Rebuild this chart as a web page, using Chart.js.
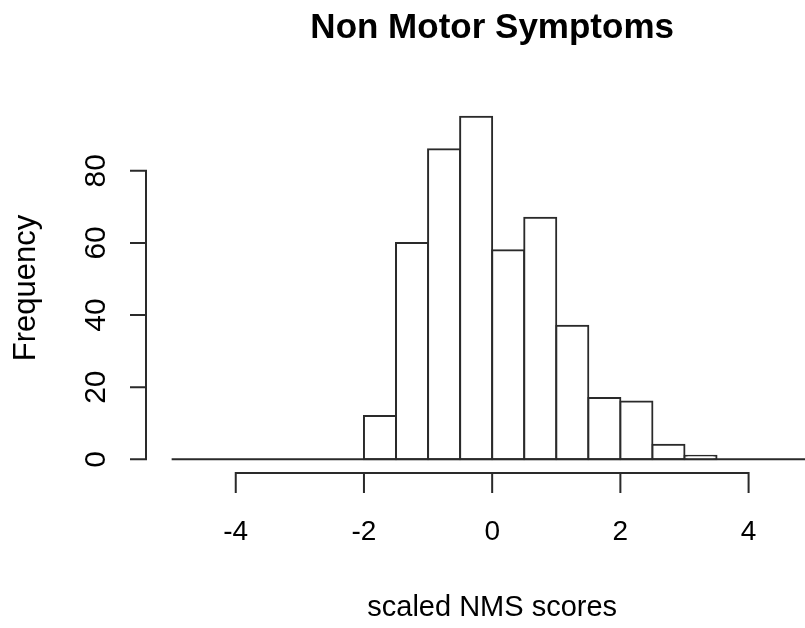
<!DOCTYPE html>
<html>
<head>
<meta charset="utf-8">
<title>Non Motor Symptoms</title>
<script src="https://cdn.jsdelivr.net/npm/chart.js@4.4.1/dist/chart.umd.min.js"></script>
<style>
  html, body { margin: 0; padding: 0; background: #fff; }
  #wrap { width: 805px; height: 628px; }
</style>
</head>
<body>
<div id="wrap"><canvas id="nmsChart" width="805" height="628"></canvas></div>
<script>
// histogram bins (width 0.5), centres and counts
const binCentres = [-4.75, -4.25, -3.75, -3.25, -2.75, -2.25, -1.75, -1.25, -0.75, -0.25,
                    0.25, 0.75, 1.25, 1.75, 2.25, 2.75, 3.25, 3.75, 4.25, 4.75];
const counts = [0, 0, 0, 0, 0, 0, 12, 60, 86, 95,
                58, 67, 37, 17, 16, 4, 1, 0, 0, 0];
const binRange = [-5, 5];

const xTicks = [-4, -2, 0, 2, 4];
const yTicks = [0, 20, 40, 60, 80];

// R plot region: x -5.4..5.4 (picture is cut at the right), y -3.8..98.8
const xPlot = [-5.4, 5.4];
const xVisibleMax = 4.88;
const yLim = [-3.8, 98.8];

const FONT = "'Liberation Sans', Arial, Helvetica, sans-serif";
const LINE = '#2a2a2a';

// ========================
// R style axes + titles
// ========================
const rAxes = {
    id: 'rAxes',
    afterDraw(chart) {
        const { ctx, chartArea, scales: { x, y } } = chart;
        ctx.save();
        ctx.strokeStyle = LINE;
        ctx.lineWidth = 2;
        ctx.beginPath();
        // y axis
        const left = chartArea.left;
        ctx.moveTo(left, y.getPixelForValue(yTicks[0]) + 1);
        ctx.lineTo(left, y.getPixelForValue(yTicks[yTicks.length - 1]) - 1);
        yTicks.forEach(v => {
            const py = y.getPixelForValue(v);
            ctx.moveTo(left - 16, py);
            ctx.lineTo(left, py);
        });
        // x axis (sits below the plot, like R)
        const ay = chartArea.bottom;
        ctx.moveTo(x.getPixelForValue(xTicks[0]) - 1, ay);
        ctx.lineTo(x.getPixelForValue(xTicks[xTicks.length - 1]) + 1, ay);
        xTicks.forEach(v => {
            const px = x.getPixelForValue(v);
            ctx.moveTo(px, ay);
            ctx.lineTo(px, ay + 20);
        });
        ctx.stroke();

        // titles centred on the plot region
        const cx = x.getPixelForValue((xPlot[0] + xPlot[1]) / 2);
        ctx.fillStyle = '#000';
        ctx.textAlign = 'center';
        ctx.textBaseline = 'alphabetic';
        ctx.font = 'bold 35px ' + FONT;
        ctx.fillText('Non Motor Symptoms', cx, 38);
        ctx.font = '29px ' + FONT;
        ctx.fillText('scaled NMS scores', cx, 616);
        ctx.restore();
    }
};

const ctx = document.getElementById('nmsChart');

new Chart(ctx, {
    type: 'bar',
    data: {
        datasets: [
            {
                type: 'line',
                data: binRange.map(v => ({ x: v, y: 0 })),
                borderColor: LINE,
                borderWidth: 2,
                pointRadius: 0,
                order: 0
            },
            {
                data: binCentres.map((c, i) => ({ x: c, y: counts[i] })),
                backgroundColor: '#ffffff',
                borderColor: LINE,
                borderWidth: 2,
                inflateAmount: 1,
                borderSkipped: false,
                barPercentage: 1,
                categoryPercentage: 1,
                order: 1
            }
        ]
    },
    options: {
        responsive: false,
        animation: false,
        layout: { padding: { top: 103, left: 0, right: 0, bottom: 0 } },
        plugins: {
            legend: { display: false },
            tooltip: { enabled: false },
            title: { display: false }
        },
        scales: {
            x: {
                type: 'linear',
                min: xPlot[0],
                max: xVisibleMax,
                offset: false,
                grid: { display: false, drawTicks: false },
                border: { display: false },
                afterBuildTicks: s => { s.ticks = xTicks.map(v => ({ value: v })); },
                afterFit: s => { s.height = 155; },
                ticks: {
                    font: { family: FONT, size: 28 },
                    color: '#000',
                    padding: 42,
                    minRotation: 0,
                    maxRotation: 0
                }
            },
            y: {
                type: 'linear',
                min: yLim[0],
                max: yLim[1],
                grid: { display: false, drawTicks: false },
                border: { display: false },
                afterBuildTicks: s => { s.ticks = yTicks.map(v => ({ value: v })); },
                afterFit: s => { s.width = 146; },
                ticks: {
                    font: { family: FONT, size: 30 },
                    color: '#000',
                    padding: 33,
                    minRotation: 90,
                    maxRotation: 90,
                    crossAlign: 'center'
                },
                title: {
                    display: true,
                    text: 'Frequency',
                    font: { family: FONT, size: 31 },
                    color: '#000',
                    padding: 8
                }
            }
        }
    },
    plugins: [rAxes]
});
</script>
</body>
</html>
